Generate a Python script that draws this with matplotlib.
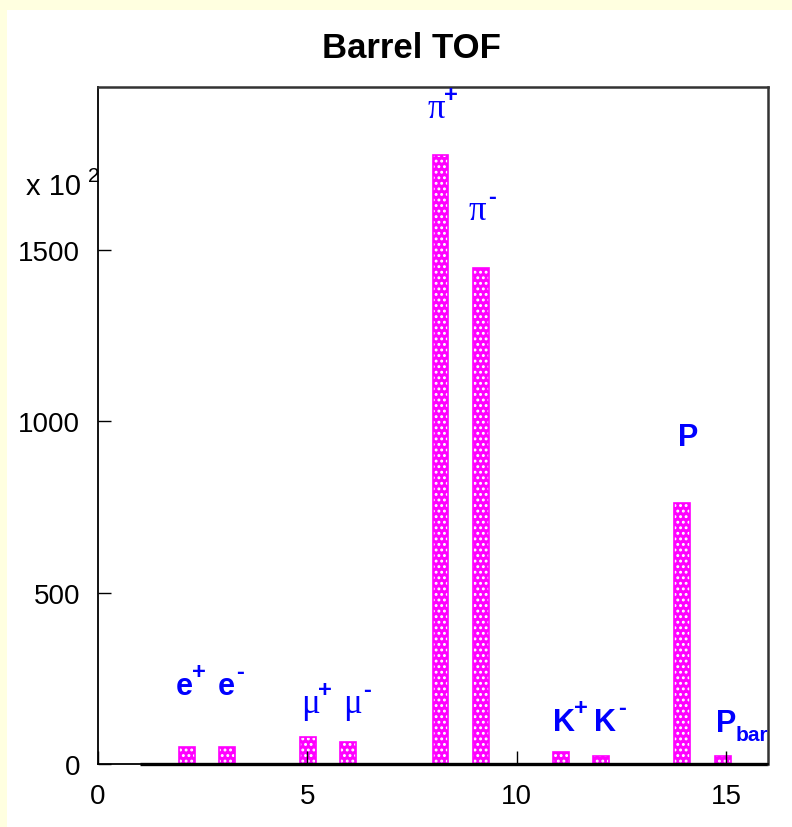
import matplotlib
matplotlib.use("Agg")
import matplotlib.pyplot as plt
from matplotlib.patches import Rectangle

# ---- data ----
particles = ["e+", "e-", "mu+", "mu-", "pi+", "pi-", "K+", "K-", "P", "Pbar"]
bar_x = [2.13, 3.09, 5.01, 5.96, 8.18, 9.14, 11.06, 12.02, 13.95, 14.92]
counts = [50, 50, 79, 64, 1776, 1446, 35, 23, 761, 23]   # in units of 10^2
hist_range = [1, 16]
x_ticks = [0, 5, 10, 15]
y_ticks = [0, 500, 1000, 1500]

label_base = ["e", "e", "\u03bc", "\u03bc", "\u03c0", "\u03c0", "K", "K", "P", "P"]
label_sup = ["+", "-", "+", "-", "+", "-", "+", "-", "", ""]
label_sub = ["", "", "", "", "", "", "", "", "", "bar"]
greek = [False, False, True, True, True, True, False, False, False, False]
# label anchor (left, baseline) in data coordinates
label_x = [1.86, 2.86, 4.84, 5.85, 7.88, 8.86, 10.87, 11.85, 13.84, 14.75]
label_y = [204, 204, 152, 152, 1887, 1590, 99, 99, 931, 96]

W, H, DPI = 792, 828, 100
fig = plt.figure(figsize=(W / DPI, H / DPI), dpi=DPI)
fig.patch.set_facecolor("#FFFFE0")
fig.patches.append(Rectangle((7 / W, 0), 1 - 7 / W, 1 - 11 / H, transform=fig.transFigure,
                             facecolor="white", edgecolor="none", zorder=-10))

ax = fig.add_axes([98 / W, (H - 765) / H, (768 - 98) / W, (765 - 88) / H])
ax.set_facecolor("white")
ax.set_axisbelow(False)

magenta = "#FF00FF"
plt.rcParams["hatch.linewidth"] = 1.3
ax.bar(bar_x, counts, width=0.38, color=magenta, edgecolor="white", hatch="...",
       linewidth=0, zorder=1.5)
ax.bar(bar_x, counts, width=0.38, fill=False, edgecolor=magenta, linewidth=1.2, zorder=1.6)
ax.plot(hist_range, [0, 0], color="black", linewidth=2.4, solid_capstyle="butt",
        zorder=2.2, clip_on=False)

ax.set_xlim(0, 16)
ax.set_ylim(0, 1975)
ax.set_xticks(x_ticks)
ax.set_yticks(y_ticks)
ax.set_xticklabels([str(t) for t in x_ticks])
ax.set_yticklabels([str(t) for t in y_ticks])
ax.tick_params(axis="both", direction="in", length=9.5, width=1.0, color="black",
               labelsize=20, top=False, right=False)
ax.tick_params(axis="x", pad=14)
ax.tick_params(axis="y", pad=13)
for lab in ax.get_xticklabels() + ax.get_yticklabels():
    lab.set_fontfamily("Liberation Sans")
for s in ["left", "bottom"]:
    ax.spines[s].set_color("black")
    ax.spines[s].set_linewidth(1.3)
for s in ["top", "right"]:
    ax.spines[s].set_color("#333333")
    ax.spines[s].set_linewidth(1.8)

# title
fig.text(411 / W, 1 - 48 / H, "Barrel TOF", ha="center", va="center",
         fontsize=25, fontweight="bold", family="Liberation Sans")
# scale factor
fig.text(81 / W, 1 - 187 / H, "x 10", ha="right", va="center", fontsize=21,
         family="Liberation Sans")
fig.text(94 / W, 1 - 176 / H, "2", ha="center", va="center", fontsize=15,
         family="Liberation Sans")

blue = "#0000FF"
for i in range(len(particles)):
    if greek[i]:
        base = ax.text(label_x[i], label_y[i], label_base[i], ha="left", va="baseline",
                       fontsize=25, color=blue, family="Liberation Serif", zorder=5)
    else:
        base = ax.text(label_x[i], label_y[i], label_base[i], ha="left", va="baseline",
                       fontsize=22, color=blue, fontweight="bold",
                       family="Liberation Sans", zorder=5)
    if label_sup[i]:
        ax.annotate(label_sup[i], xy=(1, label_y[i]), xycoords=(base, "data"),
                    xytext=(4, 16), textcoords="offset points", ha="center",
                    va="center", fontsize=17, fontweight="bold", color=blue,
                    family="Liberation Sans", zorder=5)
    if label_sub[i]:
        ax.annotate(label_sub[i], xy=(1, label_y[i]), xycoords=(base, "data"),
                    xytext=(0, -6.5), textcoords="offset points", ha="left",
                    va="baseline", fontsize=15, fontweight="bold", color=blue,
                    family="Liberation Sans", zorder=5, annotation_clip=False)

fig.savefig("out.png", dpi=DPI, facecolor=fig.get_facecolor())
